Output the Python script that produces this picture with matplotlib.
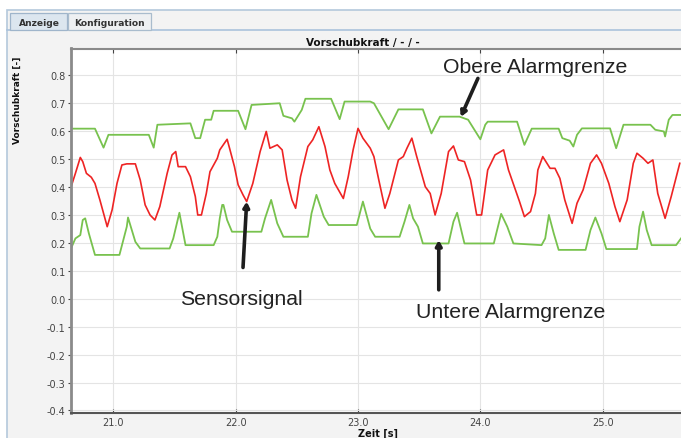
import matplotlib
matplotlib.use('Agg')
import matplotlib.pyplot as plt
from matplotlib.patches import Rectangle
from matplotlib.lines import Line2D

# --- data ---
t_sig = [20.66, 20.69, 20.73, 20.75, 20.78, 20.82, 20.85, 20.89, 20.95, 20.99,
         21.03, 21.07, 21.11, 21.18, 21.22, 21.26, 21.30, 21.34, 21.38, 21.44,
         21.48, 21.51, 21.53, 21.59, 21.63, 21.67, 21.69, 21.72, 21.76, 21.79,
         21.85, 21.87, 21.93, 21.95, 21.99, 22.02, 22.06, 22.09, 22.14, 22.20,
         22.25, 22.28, 22.34, 22.38, 22.42, 22.46, 22.49, 22.53, 22.59, 22.63,
         22.68, 22.73, 22.77, 22.81, 22.88, 22.92, 22.96, 23.00, 23.04, 23.10,
         23.13, 23.17, 23.22, 23.26, 23.33, 23.37, 23.40, 23.44, 23.48, 23.55,
         23.59, 23.63, 23.68, 23.74, 23.78, 23.82, 23.87, 23.92, 23.97, 24.01,
         24.06, 24.12, 24.19, 24.23, 24.32, 24.36, 24.41, 24.45, 24.47, 24.51,
         24.57, 24.61, 24.65, 24.69, 24.75, 24.79, 24.84, 24.90, 24.95, 24.99,
         25.05, 25.10, 25.14, 25.20, 25.25, 25.28, 25.33, 25.37, 25.41, 25.45,
         25.51, 25.56, 25.63]
v_sig = [0.408, 0.449, 0.506, 0.491, 0.449, 0.435, 0.413, 0.354, 0.258, 0.318,
         0.413, 0.479, 0.483, 0.483, 0.425, 0.336, 0.300, 0.282, 0.330, 0.449,
         0.515, 0.527, 0.473, 0.473, 0.437, 0.366, 0.300, 0.300, 0.377, 0.455,
         0.503, 0.533, 0.571, 0.539, 0.473, 0.408, 0.372, 0.348, 0.413, 0.527,
         0.599, 0.539, 0.551, 0.533, 0.425, 0.354, 0.324, 0.437, 0.545, 0.569,
         0.616, 0.545, 0.461, 0.413, 0.359, 0.437, 0.533, 0.610, 0.575, 0.539,
         0.509, 0.425, 0.324, 0.377, 0.497, 0.509, 0.539, 0.575, 0.509, 0.401,
         0.377, 0.300, 0.377, 0.527, 0.547, 0.497, 0.491, 0.425, 0.300, 0.300,
         0.461, 0.515, 0.533, 0.461, 0.348, 0.294, 0.312, 0.377, 0.461, 0.509,
         0.467, 0.467, 0.431, 0.354, 0.270, 0.342, 0.390, 0.485, 0.515, 0.485,
         0.413, 0.330, 0.276, 0.354, 0.485, 0.521, 0.503, 0.485, 0.497, 0.377,
         0.288, 0.366, 0.485]

t_up = [20.65, 20.85, 20.92, 20.96, 21.29, 21.33, 21.36, 21.63, 21.67, 21.71,
        21.75, 21.80, 21.82, 22.02, 22.08, 22.13, 22.36, 22.39, 22.46, 22.48,
        22.54, 22.57, 22.78, 22.85, 22.89, 23.10, 23.13, 23.25, 23.33, 23.53,
        23.60, 23.67, 23.83, 23.90, 24.00, 24.04, 24.06, 24.30, 24.36, 24.42,
        24.64, 24.67, 24.73, 24.76, 24.79, 24.83, 25.06, 25.11, 25.17, 25.39,
        25.43, 25.50, 25.51, 25.54, 25.57, 25.64]
v_up = [0.609, 0.609, 0.541, 0.587, 0.587, 0.541, 0.623, 0.628, 0.575, 0.575,
        0.641, 0.641, 0.673, 0.673, 0.607, 0.694, 0.700, 0.655, 0.646, 0.634,
        0.676, 0.716, 0.716, 0.643, 0.706, 0.706, 0.700, 0.607, 0.678, 0.678,
        0.592, 0.652, 0.652, 0.641, 0.571, 0.623, 0.634, 0.634, 0.551, 0.609,
        0.609, 0.575, 0.566, 0.545, 0.587, 0.610, 0.610, 0.539, 0.623, 0.623,
        0.605, 0.599, 0.581, 0.641, 0.658, 0.658]

t_lo = [20.66, 20.69, 20.73, 20.75, 20.77, 20.80, 20.85, 21.05, 21.11, 21.12,
        21.18, 21.22, 21.46, 21.49, 21.54, 21.59, 21.82, 21.85, 21.87, 21.89,
        21.90, 21.93, 21.97, 22.21, 22.24, 22.29, 22.34, 22.39, 22.59, 22.62,
        22.66, 22.72, 22.76, 22.99, 23.04, 23.10, 23.14, 23.34, 23.38, 23.42,
        23.45, 23.49, 23.53, 23.74, 23.78, 23.81, 23.85, 23.87, 24.11, 24.13,
        24.17, 24.22, 24.27, 24.50, 24.53, 24.56, 24.60, 24.64, 24.86, 24.90,
        24.94, 24.99, 25.03, 25.28, 25.30, 25.33, 25.36, 25.40, 25.60, 25.64]
v_lo = [0.186, 0.216, 0.228, 0.282, 0.288, 0.234, 0.157, 0.157, 0.258, 0.291,
        0.204, 0.180, 0.180, 0.216, 0.308, 0.192, 0.192, 0.222, 0.288, 0.336,
        0.336, 0.282, 0.240, 0.240, 0.288, 0.354, 0.270, 0.222, 0.222, 0.306,
        0.372, 0.294, 0.264, 0.264, 0.348, 0.251, 0.222, 0.222, 0.276, 0.336,
        0.288, 0.258, 0.198, 0.198, 0.276, 0.308, 0.234, 0.198, 0.198, 0.234,
        0.304, 0.258, 0.198, 0.192, 0.216, 0.300, 0.234, 0.175, 0.175, 0.246,
        0.291, 0.234, 0.178, 0.178, 0.258, 0.312, 0.246, 0.192, 0.192, 0.216]

x_ticks = [21.0, 22.0, 23.0, 24.0, 25.0]
y_ticks = [0.8, 0.7, 0.6, 0.5, 0.4, 0.3, 0.2, 0.1, 0.0, -0.1, -0.2, -0.3, -0.4]

tabs = ['Anzeige', 'Konfiguration']
title = 'Vorschubkraft / - / -'
ylabel = 'Vorschubkraft [-]'
xlabel = 'Zeit [s]'

# annotations: (text, text pos, arrow tail, arrow head) in data units
notes = [
    ('Obere Alarmgrenze', (24.45, 0.832), (23.98, 0.789), (23.84, 0.651)),
    ('Sensorsignal', (22.05, 0.0), (22.06, 0.112), (22.09, 0.348)),
    ('Untere Alarmgrenze', (24.25, -0.047), (23.66, 0.032), (23.66, 0.210)),
]

W, H = 681, 439
fig = plt.figure(figsize=(W / 100, H / 100), dpi=100, facecolor='white')


def fx(px):
    return px / W


def fy(py):
    return 1 - py / H


# GUI panel behind the chart
fig.add_artist(Rectangle((fx(7), -0.01), 1.0, fy(11) + 0.01, transform=fig.transFigure,
                         facecolor='#f3f3f3', edgecolor='#b4c8dc', lw=1.2, zorder=-5))
fig.add_artist(Line2D([fx(7), 1], [fy(31), fy(31)], transform=fig.transFigure,
                      color='#aac2dc', lw=1.2, zorder=-4))
# tabs
fig.add_artist(Rectangle((fx(10), fy(31)), fx(57), fy(14) - fy(31), transform=fig.transFigure,
                         facecolor='#dce6ef', edgecolor='#9fb5cb', lw=0.9, zorder=-3))
fig.add_artist(Rectangle((fx(68), fy(31)), fx(83), fy(14) - fy(31), transform=fig.transFigure,
                         facecolor='#eef0f2', edgecolor='#a9bccd', lw=0.9, zorder=-3))
fig.text(fx(39), fy(23), tabs[0], ha='center', va='center', fontsize=6.6,
         fontweight='bold', color='#333333', family='DejaVu Sans')
fig.text(fx(109), fy(23), tabs[1], ha='center', va='center', fontsize=6.6,
         fontweight='bold', color='#333333', family='DejaVu Sans')

ax = fig.add_axes([fx(71), fy(414), 1 - fx(71), fy(49.5) - fy(414)])
ax.set_facecolor('white')

ax.plot(t_up, v_up, color='#78c24e', lw=1.3)
ax.plot(t_lo, v_lo, color='#78c24e', lw=1.3)
ax.plot(t_sig, v_sig, color='#ee2424', lw=1.2)

ax.set_xlim(20.654, 25.64)
ax.set_ylim(-0.409, 0.896)
ax.set_xticks(x_ticks)
ax.set_xticklabels(['%.1f' % v for v in x_ticks])
ax.set_yticks(y_ticks)
ax.set_yticklabels(['%.1f' % v for v in y_ticks])
ax.grid(True, color='#e4e4e4', lw=0.8)
ax.tick_params(axis='both', labelsize=7, colors='#444444', length=3, width=0.8,
               direction='in', top=True, pad=3)
ax.tick_params(axis='y', direction='out', length=2, pad=2)
for lab in ax.get_xticklabels() + ax.get_yticklabels():
    lab.set_color('#444444')
    lab.set_family('DejaVu Sans')

ax.spines['right'].set_visible(False)
ax.spines['left'].set_color('#8a8a8a')
ax.spines['left'].set_linewidth(2.0)
ax.spines['top'].set_color('#8a8a8a')
ax.spines['top'].set_linewidth(1.5)
ax.spines['bottom'].set_color('#555555')
ax.spines['bottom'].set_linewidth(1.5)

fig.text(fx(363), fy(43), title, ha='center', va='center', fontsize=7.5,
         fontweight='bold', color='#111111')
fig.text(fx(17), fy(57), ylabel, ha='center', va='top', rotation=90, fontsize=6.5,
         fontweight='bold', color='#111111')
fig.text(fx(378), fy(434), xlabel, ha='center', va='center', fontsize=7,
         fontweight='bold', color='#111111')

for text, tpos, tail, head in notes:
    ax.annotate('', xy=head, xytext=tail,
                arrowprops=dict(arrowstyle='-|>,head_length=0.3,head_width=0.17',
                                color='#1e1e1e', lw=2.6, shrinkA=0, shrinkB=0))
    ax.text(tpos[0], tpos[1], text, ha='center', va='center', fontsize=15.3,
            color='#222222', family='Liberation Sans')

fig.savefig('out.png', dpi=100, facecolor=fig.get_facecolor())
